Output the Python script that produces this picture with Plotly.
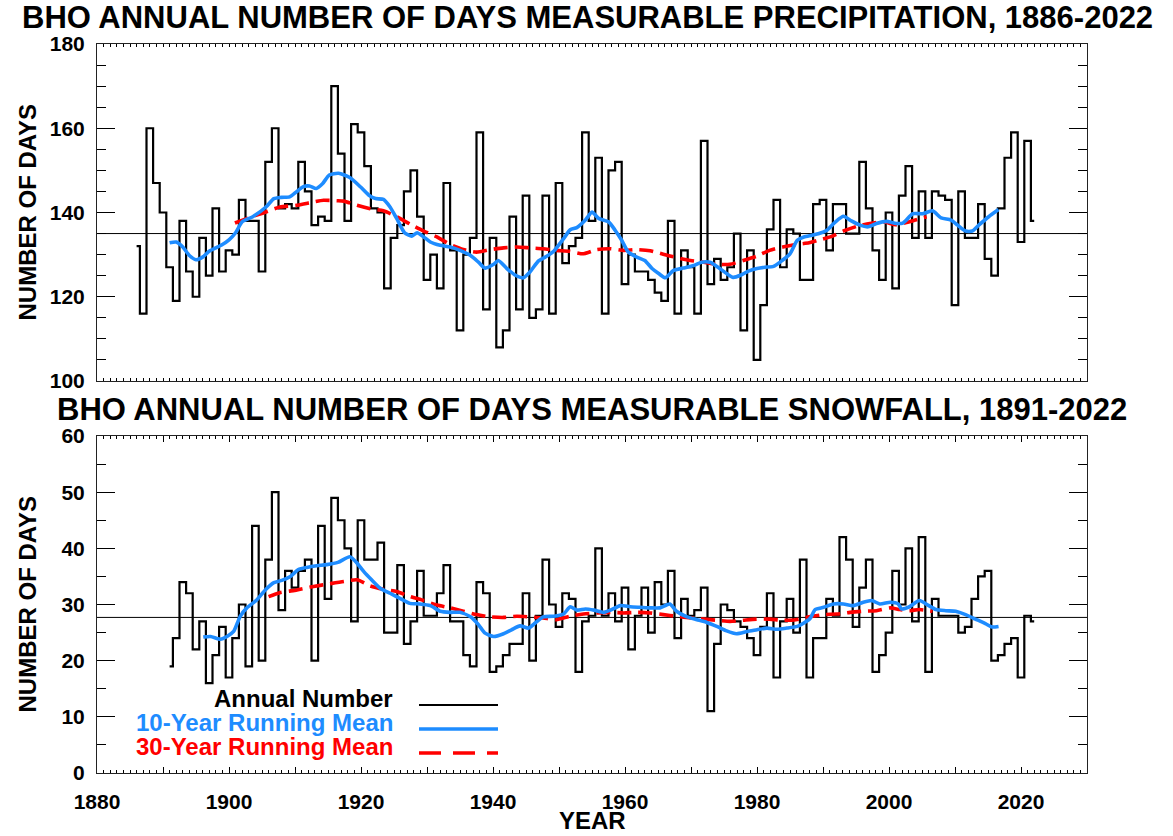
import plotly.graph_objects as go

W, H = 1173, 836

# ---- Annual number of days with measurable precipitation, 1886-2022 ----
precip_years = list(range(1886, 2023))
precip_days = [
    132, 116, 160, 147, 140, 127, 119, 138, 126, 120,   # 1886-1895
    134, 125, 141, 126, 131, 130, 143, 138, 138, 126,   # 1896-1905
    152, 160, 141, 142, 141, 152, 145, 137, 139, 138,   # 1906-1915
    170, 154, 138, 161, 159, 151, 141, 140, 122, 134,   # 1916-1925
    137, 145, 150, 139, 124, 130, 122, 147, 131, 112,   # 1926-1935
    130, 134, 159, 117, 134, 108, 112, 139, 117, 144,   # 1936-1945
    115, 117, 144, 116, 147, 128, 132, 134, 159, 138,   # 1946-1955
    153, 116, 150, 152, 123, 130, 126, 126, 124, 121,   # 1956-1965
    119, 138, 116, 131, 127, 116, 157, 123, 129, 124,   # 1966-1975
    127, 135, 112, 131, 105, 118, 136, 143, 127, 136,   # 1976-1985
    135, 124, 124, 142, 143, 131, 142, 142, 135, 135,   # 1986-1995
    152, 141, 131, 124, 140, 122, 144, 151, 134, 145,   # 1996-2005
    134, 145, 144, 143, 118, 145, 134, 134, 142, 129,   # 2006-2015
    125, 141, 153, 159, 133, 157, 138,                  # 2016-2022
]
precip_long_term_mean = 135.0

precip_10yr_years = [
    1891.0, 1892.0, 1893.0, 1894.0, 1895.0, 1896.0, 1897.0, 1898.0, 1899.0, 1900.0,
    1901.0, 1902.0, 1903.6, 1905.6, 1906.8, 1907.9, 1909.2, 1910.2, 1911.2, 1912.2,
    1913.2, 1914.2, 1915.2, 1916.6, 1918.3, 1919.9, 1921.2, 1922.2, 1923.4, 1924.4,
    1925.4, 1926.6, 1927.7, 1928.5, 1929.5, 1930.5, 1932.0, 1933.5, 1935.0, 1936.6,
    1937.8, 1938.8, 1940.1, 1940.8, 1942.1, 1943.4, 1944.6, 1945.6, 1946.9, 1947.9,
    1949.2, 1950.7, 1951.7, 1952.7, 1954.0, 1955.0, 1956.0, 1957.5, 1958.5, 1959.5,
    1960.5, 1961.8, 1963.0, 1964.1, 1965.1, 1966.1, 1967.3, 1968.8, 1970.4, 1971.6,
    1972.9, 1974.1, 1975.4, 1976.4, 1977.5, 1978.7, 1980.0, 1981.2, 1982.5, 1983.8,
    1985.0, 1986.1, 1987.1, 1988.3, 1989.4, 1990.6, 1991.9, 1993.1, 1994.3, 1995.6,
    1996.8, 1998.1, 1999.6, 2001.1, 2002.1, 2003.6, 2005.1, 2006.6, 2007.9, 2009.4,
    2010.4, 2011.6, 2012.6, 2013.6, 2015.1, 2016.6,
]
precip_10yr_mean = [
    132.8, 133.0, 131.8, 129.8, 128.8, 129.4, 130.8, 131.6, 132.4, 133.5,
    135.2, 137.8, 139.0, 141.3, 143.3, 143.6, 143.7, 144.9, 146.1, 146.3,
    145.7, 146.9, 148.9, 149.3, 148.3, 146.1, 144.1, 143.3, 143.1, 141.3,
    138.6, 135.2, 134.4, 135.2, 134.2, 133.0, 132.2, 131.8, 131.0, 129.8,
    128.2, 126.8, 127.7, 128.6, 126.7, 125.1, 124.5, 125.9, 128.5, 129.4,
    130.8, 133.8, 135.9, 136.4, 138.2, 140.1, 138.6, 137.8, 135.8, 133.4,
    130.6, 129.4, 128.6, 126.7, 125.5, 124.5, 126.2, 126.8, 127.4, 128.2,
    128.2, 127.0, 125.5, 124.6, 125.1, 126.1, 126.7, 127.0, 127.2, 128.6,
    130.2, 133.4, 134.2, 134.6, 135.0, 135.8, 137.8, 139.1, 138.0, 137.0,
    136.6, 137.4, 137.9, 137.4, 137.5, 139.7, 139.7, 140.4, 138.7, 138.2,
    137.0, 135.6, 135.6, 137.0, 139.0, 140.7,
]

precip_30yr_years = [
    1900.9, 1902.7, 1905.2, 1907.7, 1910.2, 1912.8, 1914.3, 1916.3, 1917.4, 1919.4,
    1921.4, 1923.4, 1925.4, 1927.5, 1929.5, 1931.5, 1933.5, 1935.5, 1937.5, 1939.6,
    1941.6, 1943.6, 1945.6, 1947.6, 1949.6, 1951.6, 1953.7, 1955.7, 1957.8, 1959.8,
    1961.8, 1963.8, 1965.8, 1967.8, 1969.9, 1971.9, 1973.9, 1975.9, 1977.9, 1979.9,
    1981.9, 1983.9, 1985.9, 1987.9, 1989.5, 1991.1, 1993.1, 1995.1, 1997.1, 1999.1,
    2001.1, 2003.1, 2005.7,
]
precip_30yr_mean = [
    137.5, 138.6, 139.9, 141.3, 141.7, 142.5, 142.9, 142.8, 142.7, 141.7,
    140.9, 140.4, 139.0, 137.2, 135.6, 134.2, 132.4, 131.2, 130.6, 131.2,
    131.6, 131.8, 131.6, 131.4, 131.0, 130.8, 130.2, 131.2, 131.4, 131.0,
    131.2, 130.9, 130.1, 129.3, 128.6, 128.2, 127.7, 127.7, 128.6, 129.6,
    131.0, 131.8, 132.4, 132.8, 133.5, 134.2, 135.6, 136.7, 137.4, 137.8,
    137.1, 137.8, 139.0,
]

# ---- Annual number of days with measurable snowfall, 1891-2022 ----
snow_years = list(range(1891, 2023))
snow_days = [
    19, 24, 34, 32, 22, 27, 16, 21, 26, 17,   # 1891-1900
    24, 30, 19, 44, 20, 38, 50, 29, 36, 33,   # 1901-1910
    36, 38, 20, 44, 31, 49, 45, 40, 27, 45,   # 1911-1920
    38, 38, 41, 25, 25, 37, 23, 27, 36, 28,   # 1921-1930
    28, 32, 37, 27, 27, 21, 19, 34, 32, 18,   # 1931-1940
    19, 21, 23, 23, 32, 20, 28, 38, 30, 26,   # 1941-1950
    32, 31, 18, 27, 28, 40, 28, 32, 27, 33,   # 1951-1960
    22, 28, 33, 25, 34, 30, 36, 24, 31, 28,   # 1961-1970
    29, 33, 11, 23, 30, 29, 27, 26, 24, 21,   # 1971-1980
    26, 32, 17, 27, 31, 25, 38, 17, 24, 24,   # 1981-1990
    31, 28, 42, 38, 26, 33, 38, 18, 21, 25,   # 1991-2000
    36, 30, 40, 27, 42, 18, 31, 28, 28, 28,   # 2001-2010
    25, 26, 31, 35, 36, 20, 21, 23, 24, 17,   # 2011-2020
    28, 27,                                   # 2021-2022
]
snow_long_term_mean = 27.7

snow_10yr_years = [
    1896.1, 1897.2, 1898.7, 1899.7, 1900.7, 1901.7, 1902.7, 1904.2, 1905.5, 1906.8,
    1908.0, 1909.3, 1910.5, 1911.8, 1913.3, 1914.8, 1916.5, 1918.3, 1919.3, 1920.4,
    1921.6, 1922.9, 1924.4, 1925.9, 1927.4, 1928.9, 1930.5, 1932.0, 1933.5, 1935.0,
    1936.6, 1937.8, 1938.8, 1940.1, 1941.6, 1942.8, 1944.1, 1945.4, 1946.4, 1947.6,
    1949.2, 1950.7, 1951.7, 1952.7, 1954.0, 1955.3, 1956.8, 1957.8, 1959.3, 1960.8,
    1962.3, 1963.8, 1965.3, 1966.8, 1967.8, 1969.4, 1970.9, 1972.4, 1973.9, 1975.4,
    1976.9, 1978.5, 1980.0, 1981.5, 1983.0, 1984.5, 1986.1, 1987.1, 1988.1, 1988.8,
    1990.1, 1991.6, 1993.1, 1994.6, 1996.1, 1997.4, 1998.6, 2000.2, 2001.4, 2001.9,
    2003.1, 2004.6, 2005.9, 2007.1, 2008.6, 2010.1, 2011.6, 2013.1, 2014.6, 2015.6,
    2016.6,
]
snow_10yr_mean = [
    24.2, 24.3, 23.8, 24.3, 25.2, 27.9, 29.4, 30.8, 32.6, 33.9,
    34.3, 35.0, 36.2, 36.6, 36.9, 37.1, 37.5, 38.5, 37.5, 35.9,
    34.4, 32.9, 32.0, 31.1, 30.2, 30.1, 29.8, 28.8, 28.6, 28.6,
    27.8, 26.4, 24.9, 24.3, 24.8, 25.5, 26.2, 25.8, 26.7, 27.8,
    27.9, 28.3, 29.6, 29.0, 29.2, 29.0, 28.6, 29.0, 29.8, 29.6,
    29.5, 29.4, 29.4, 30.1, 28.8, 27.8, 27.3, 26.8, 26.1, 25.3,
    24.8, 25.2, 25.5, 25.8, 25.6, 25.8, 26.1, 26.7, 27.6, 29.1,
    29.5, 30.1, 30.1, 29.8, 30.4, 30.7, 30.1, 30.4, 30.1, 29.2,
    29.6, 30.7, 29.9, 29.1, 28.9, 28.8, 28.2, 27.4, 26.6, 26.0,
    26.1,
]

snow_30yr_years = [
    1906.0, 1907.7, 1910.3, 1912.8, 1915.3, 1917.4, 1919.4, 1921.4, 1923.4, 1925.4,
    1927.5, 1929.5, 1931.5, 1933.5, 1935.5, 1937.5, 1939.6, 1941.6, 1943.6, 1945.6,
    1947.6, 1949.6, 1951.6, 1953.7, 1955.7, 1957.8, 1959.8, 1961.8, 1963.8, 1965.8,
    1967.8, 1969.9, 1971.9, 1973.9, 1975.9, 1977.9, 1979.9, 1981.9, 1983.9, 1985.9,
    1987.9, 1990.1, 1992.1, 1994.1, 1996.1, 1998.1, 2000.2, 2001.6, 2003.1, 2004.6,
    2006.6,
]
snow_30yr_mean = [
    31.4, 32.1, 32.6, 33.2, 33.7, 34.1, 34.4, 33.3, 32.7, 32.3,
    31.4, 30.7, 29.9, 29.4, 28.8, 28.2, 27.8, 27.7, 27.9, 27.8,
    27.6, 27.3, 27.9, 28.3, 28.5, 28.6, 28.5, 28.6, 28.5, 28.2,
    27.9, 27.6, 27.4, 27.2, 27.0, 27.2, 27.4, 27.4, 27.2, 27.3,
    27.8, 28.2, 28.3, 28.6, 28.8, 28.9, 29.4, 29.1, 28.9, 29.1,
    28.8,
]

# ---- styling ----
FONT = "Liberation Sans, Arial, Helvetica, sans-serif"
BLACK = "#000000"
BLUE = "#1E8CFF"
RED = "#FF0000"
X_RANGE = [1880, 2030]


def px(x):
    return x / W


def py(y):
    return 1 - y / H


fig = go.Figure()


def add_panel(xa, ya, years, days, mean_all, x10, y10, x30, y30):
    fig.add_trace(go.Scatter(
        x=X_RANGE, y=[mean_all, mean_all], mode="lines",
        line=dict(color=BLACK, width=1), xaxis=xa, yaxis=ya, hoverinfo="skip"))
    fig.add_trace(go.Scatter(
        x=years, y=days, mode="lines", line_shape="hvh",
        line=dict(color=BLACK, width=2.2), xaxis=xa, yaxis=ya, name="Annual Number"))
    fig.add_trace(go.Scatter(
        x=x30, y=y30, mode="lines", line=dict(color=RED, width=3.6, dash="14px,7px",
                                              shape="spline", smoothing=0.6),
        xaxis=xa, yaxis=ya, name="30-Year Running Mean"))
    fig.add_trace(go.Scatter(
        x=x10, y=y10, mode="lines", line=dict(color=BLUE, width=3.6,
                                              shape="spline", smoothing=0.6),
        xaxis=xa, yaxis=ya, name="10-Year Running Mean"))


add_panel("x", "y", precip_years, precip_days, precip_long_term_mean,
          precip_10yr_years, precip_10yr_mean, precip_30yr_years, precip_30yr_mean)
add_panel("x2", "y2", snow_years, snow_days, snow_long_term_mean,
          snow_10yr_years, snow_10yr_mean, snow_30yr_years, snow_30yr_mean)

decades = list(range(1880, 2031, 10))
year_labels = [str(d) if d % 20 == 0 else "" for d in decades]

tick_font = dict(family=FONT, size=21, color=BLACK, weight="bold")

common_x = dict(
    range=X_RANGE, tickmode="array", tickvals=decades, automargin=False,
    ticks="inside", ticklen=6, tickwidth=1, tickcolor=BLACK,
    minor=dict(tickmode="linear", tick0=1880, dtick=1, ticks="inside",
               ticklen=3, tickwidth=1, tickcolor=BLACK),
    showline=True, linecolor="#222", linewidth=1, mirror="allticks",
    showgrid=False, zeroline=False, domain=[px(97), px(1087)],
)
common_y = dict(
    ticks="inside", ticklen=18, tickwidth=1, tickcolor=BLACK, automargin=False,
    showline=True, linecolor="#222", linewidth=1, mirror="allticks",
    showgrid=False, zeroline=False, tickfont=tick_font, ticklabelstandoff=7,
)

fig.update_layout(
    width=W, height=H, margin=dict(l=0, r=0, t=0, b=0, autoexpand=False),
    paper_bgcolor="white", plot_bgcolor="white", showlegend=False,
    font=dict(family=FONT, color=BLACK),
    xaxis=dict(common_x, anchor="y", ticktext=[""] * len(decades), showticklabels=False),
    yaxis=dict(common_y, anchor="x", range=[100, 180], tickmode="array",
               tickvals=[100, 120, 140, 160, 180],
               minor=dict(tickmode="linear", tick0=0, dtick=5, ticks="inside",
                          ticklen=9, tickwidth=1, tickcolor=BLACK),
               domain=[py(381), py(44)]),
    xaxis2=dict(common_x, anchor="y2", ticktext=year_labels, tickfont=tick_font,
                ticklabelstandoff=10),
    yaxis2=dict(common_y, anchor="x2", range=[0, 60], tickmode="array",
                tickvals=[0, 10, 20, 30, 40, 50, 60],
                minor=dict(tickmode="linear", tick0=0, dtick=5, ticks="inside",
                           ticklen=9, tickwidth=1, tickcolor=BLACK),
                domain=[py(773), py(436)]),
)

title_font = dict(family=FONT, size=31, color=BLACK, weight="bold")
label_font = dict(family=FONT, size=24, color=BLACK, weight="bold")

annotations = [
    dict(text="BHO ANNUAL NUMBER OF DAYS MEASURABLE PRECIPITATION, 1886-2022",
         x=px(587), y=py(17), font=title_font),
    dict(text="BHO ANNUAL NUMBER OF DAYS MEASURABLE SNOWFALL, 1891-2022",
         x=px(592), y=py(410), font=title_font),
    dict(text="NUMBER OF DAYS", x=px(27), y=py(212.5), textangle=-90, font=label_font),
    dict(text="NUMBER OF DAYS", x=px(27), y=py(604.5), textangle=-90, font=label_font),
    dict(text="YEAR", x=px(592), y=py(820), font=label_font),
]

# legend: right-aligned labels followed by line samples
legend_rows = [
    ("Annual Number", BLACK, 698, 705, None, 2.2),
    ("10-Year Running Mean", BLUE, 722, 729, None, 3.6),
    ("30-Year Running Mean", RED, 746, 753, "22px,12px", 3.6),
]
shapes = []
for text, color, ty, ly, dash, width in legend_rows:
    annotations.append(dict(text=text, x=px(395), y=py(ty), xanchor="right",
                            font=dict(family=FONT, size=24, color=color, weight="bold")))
    line = dict(color=color, width=width)
    if dash:
        line["dash"] = dash
    shapes.append(dict(type="line", xref="paper", yref="paper",
                       x0=px(419), x1=px(498), y0=py(ly), y1=py(ly), line=line))

for a in annotations:
    a.update(xref="paper", yref="paper", showarrow=False)
    a.setdefault("xanchor", "center")
    a.setdefault("yanchor", "middle")

fig.update_layout(annotations=annotations, shapes=shapes)

fig.write_html("out.html")
